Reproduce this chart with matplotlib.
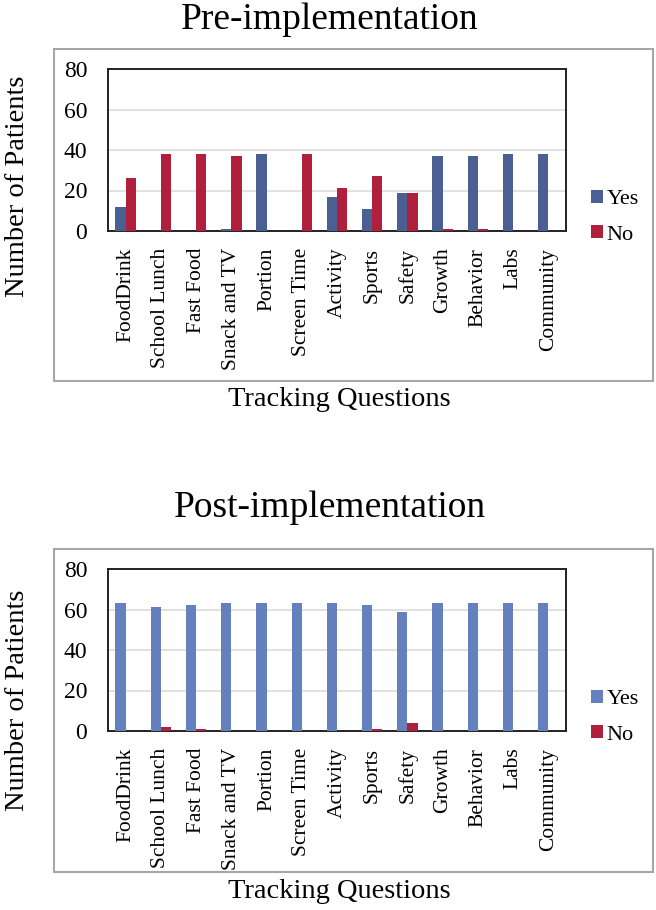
import matplotlib
matplotlib.use('Agg')
import matplotlib.pyplot as plt
from matplotlib.patches import Rectangle
import numpy as np

questions = ['FoodDrink', 'School Lunch', 'Fast Food', 'Snack and TV', 'Portion',
             'Screen Time', 'Activity', 'Sports', 'Safety', 'Growth',
             'Behavior', 'Labs', 'Community']
pre_yes = [12, 0, 0, 1, 38, 0, 17, 11, 19, 37, 37, 38, 38]
pre_no = [26, 38, 38, 37, 0, 38, 21, 27, 19, 1, 1, 0, 0]
post_yes = [63, 61, 62, 63, 63, 63, 63, 62, 59, 63, 63, 63, 63]
post_no = [0, 2, 1, 0, 0, 0, 0, 1, 4, 0, 0, 0, 0]

W, H = 656, 910
plt.rcParams['font.family'] = ['Liberation Serif', 'DejaVu Serif']

fig = plt.figure(figsize=(W / 100, H / 100), dpi=100)


def px_rect(l, t, r, b):
    return [l / W, 1 - b / H, (r - l) / W, (b - t) / H]


def draw_panel(top, bottom, title_y, ylab_y, title, yes, no, yes_color, no_color):
    # outer chart frame
    l, t, r, b = px_rect(54, top, 653, bottom)
    fig.patches.append(Rectangle((l, t), r, b, transform=fig.transFigure,
                                 fill=False, edgecolor='#a6a6a6', linewidth=1.5))
    fig.text(330 / W, 1 - title_y / H, title, ha='center', va='center',
             fontsize=27)
    fig.text(339 / W, 1 - (bottom + 19) / H, 'Tracking Questions',
             ha='center', va='center', fontsize=20.5)
    fig.text(18 / W, 1 - ylab_y / H, 'Number of Patients',
             ha='center', va='center', rotation=90, fontsize=20.5)

    ax = fig.add_axes(px_rect(108, top + 20, 566, top + 182))
    x = np.arange(len(questions))
    w = 0.29
    ax.bar(x - w / 2, yes, w, color=yes_color, label='Yes', zorder=3)
    ax.bar(x + w / 2, no, w, color=no_color, label='No', zorder=3)
    ax.set_xlim(-0.5, len(questions) - 0.5)
    ax.set_ylim(0, 80)
    ax.set_yticks([0, 20, 40, 60, 80])
    ax.set_xticks(x)
    ax.set_xticklabels(questions, rotation=90, fontsize=15.5)
    ax.tick_params(axis='y', labelsize=17, length=0, pad=15)
    ax.tick_params(axis='x', length=0, pad=12)
    ax.yaxis.grid(True, color='#dcdcdc', linewidth=1.2, zorder=0)
    for s in ax.spines.values():
        s.set_linewidth(1.4)
        s.set_color('#222222')
    ax.legend(loc='center left', bbox_to_anchor=(1.03, 0.085), frameon=False,
              fontsize=16, handlelength=0.55, handleheight=0.55,
              handletextpad=0.15, labelspacing=0.7, borderpad=0)
    return ax


draw_panel(49, 381, 20, 186, 'Pre-implementation',
           pre_yes, pre_no, '#4a6093', '#b01f3c')
draw_panel(549, 872, 508, 700, 'Post-implementation',
           post_yes, post_no, '#6581bd', '#b01f3c')

fig.savefig('out.png', dpi=100)
